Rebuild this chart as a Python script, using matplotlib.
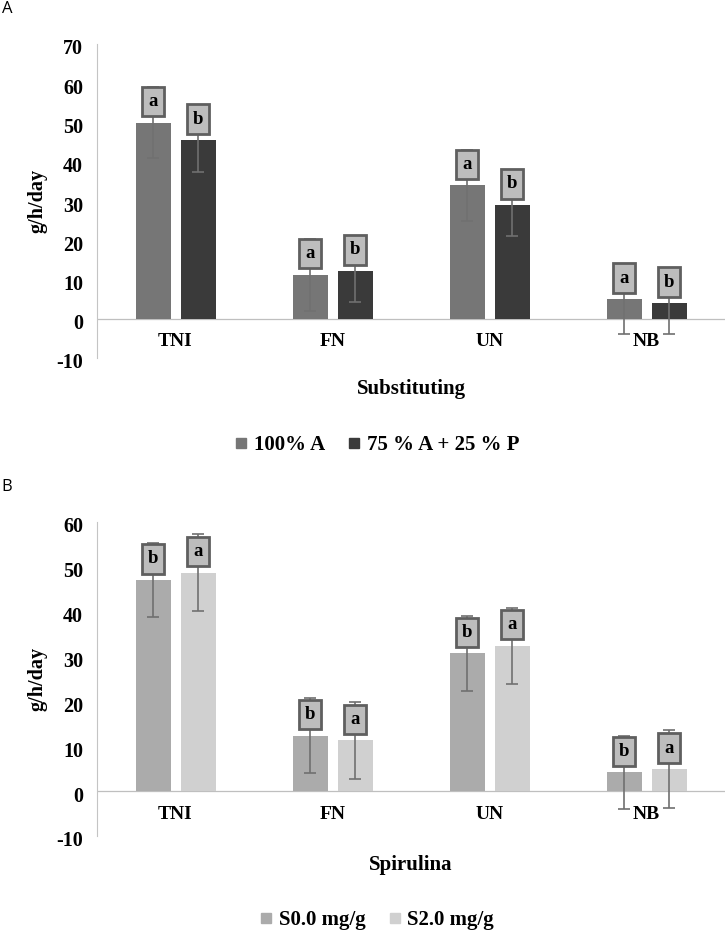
import matplotlib
matplotlib.use("Agg")
import matplotlib.pyplot as plt
import matplotlib.transforms as mtransforms
from matplotlib.lines import Line2D
import numpy as np

plt.rcParams["axes.unicode_minus"] = False

categories = ["TNI", "FN", "UN", "NB"]

# Panel A: Substituting
a_series_names = ["100% A", "75 % A + 25 % P"]
a_vals_100 = [50.0, 11.2, 34.0, 5.0]
a_err_100 = [9.0, 9.1, 9.0, 8.9]
a_vals_75 = [45.5, 12.2, 29.0, 4.0]
a_err_75 = [8.1, 7.9, 7.9, 7.8]
a_letters_100 = ["a", "a", "a", "a"]
a_letters_75 = ["b", "b", "b", "b"]

# Panel B: Spirulina
b_series_names = ["S0.0 mg/g", "S2.0 mg/g"]
b_vals_s0 = [47.1, 12.4, 30.7, 4.2]
b_err_s0 = [8.2, 8.3, 8.3, 8.2]
b_vals_s2 = [48.7, 11.3, 32.4, 4.9]
b_err_s2 = [8.6, 8.5, 8.5, 8.7]
b_letters_s0 = ["b", "b", "b", "b"]
b_letters_s2 = ["a", "a", "a", "a"]

SERIF = ["Liberation Serif", "DejaVu Serif"]
W, H = 726, 932
fig = plt.figure(figsize=(W / 100, H / 100), dpi=100)

AX_L = 97 / W
AX_W = (725 - 97) / W


def panel(ax_rect, series, colors, ymax, xtitle, title_y, legend_y, names, letter, letter_y):
    ax = fig.add_axes(ax_rect)
    x = np.arange(len(categories))
    off = 22.5 / 157
    bw = 35 / 157
    for k, (vals, errs, letters) in enumerate(series):
        pos = x + (-off if k == 0 else off)
        ax.bar(pos, vals, width=bw, color=colors[k], zorder=2)
        ax.errorbar(pos, vals, yerr=errs, fmt="none", ecolor="#707070",
                    elinewidth=1.2, capsize=4.2, capthick=1.2, zorder=3)
        for p, v, l in zip(pos, vals, letters):
            ax.annotate(l, xy=(p, v), xytext=(0, 9.0), textcoords="offset points",
                        ha="center", va="bottom", fontsize=13.5, fontweight="bold",
                        family=SERIF, color="black", zorder=5,
                        bbox=dict(boxstyle="square,pad=0.33", fc="#bdbdbd",
                                  ec="#5f5f5f", lw=2.0))
    for i, c in enumerate(categories):
        ax.annotate(c, xy=(i, 0), xytext=(0, -16.5), textcoords="offset points",
                    ha="center", va="center", fontsize=14, fontweight="bold",
                    family=SERIF)
    ax.set_xlim(-0.5, len(categories) - 0.5)
    ax.set_ylim(-10, ymax)
    ax.set_yticks(np.arange(-10, ymax + 1, 10))
    ax.set_xticks([])
    ax.axhline(0, color="#bfbfbf", lw=0.9, zorder=1)
    for s in ["top", "right", "bottom"]:
        ax.spines[s].set_visible(False)
    ax.spines["left"].set_color("#c4c4c4")
    ax.spines["left"].set_linewidth(0.8)
    ax.tick_params(axis="y", length=0, pad=10)
    shift = mtransforms.ScaledTranslation(0, -3 / 100, fig.dpi_scale_trans)
    for t in ax.get_yticklabels():
        t.set_fontfamily(SERIF)
        t.set_fontweight("bold")
        t.set_fontsize(14.5)
        t.set_transform(t.get_transform() + shift)
    ax.patch.set_alpha(0)
    yc = ax_rect[1] + ax_rect[3] / 2
    fig.text(37 / W, yc, "g/h/day", rotation=90, ha="center", va="center",
             fontsize=14.5, fontweight="bold", family=SERIF)
    fig.text((97 + 725) / 2 / W, 1 - title_y / H, xtitle, ha="center", va="center",
             fontsize=15, fontweight="bold", family=SERIF)
    handles = [Line2D([], [], marker="s", linestyle="none", markersize=7.5,
                      markerfacecolor=colors[k], markeredgecolor=colors[k])
               for k in range(2)]
    fig.legend(handles, names, loc="center", bbox_to_anchor=(377 / W, 1 - legend_y / H),
               ncol=2, frameon=False, handlelength=0.6, handletextpad=0.3,
               columnspacing=1.1, borderaxespad=0,
               prop=dict(family=SERIF, weight="bold", size=15))
    fig.text(7 / W, 1 - letter_y / H, letter, ha="center", va="center",
             fontsize=12, family=["Open Sans", "DejaVu Sans"])
    return ax


rectA = [AX_L, 1 - 358 / H, AX_W, (358 - 44) / H]
panel(rectA,
      [(a_vals_100, a_err_100, a_letters_100), (a_vals_75, a_err_75, a_letters_75)],
      ["#767676", "#3a3a3a"], 70, "Substituting", 389, 445, a_series_names, "A", 9)

rectB = [AX_L, 1 - 836 / H, AX_W, (836 - 522) / H]
panel(rectB,
      [(b_vals_s0, b_err_s0, b_letters_s0), (b_vals_s2, b_err_s2, b_letters_s2)],
      ["#ababab", "#d0d0d0"], 60, "Spirulina", 865, 920, b_series_names, "B", 487)

fig.savefig("out.png", dpi=100)
